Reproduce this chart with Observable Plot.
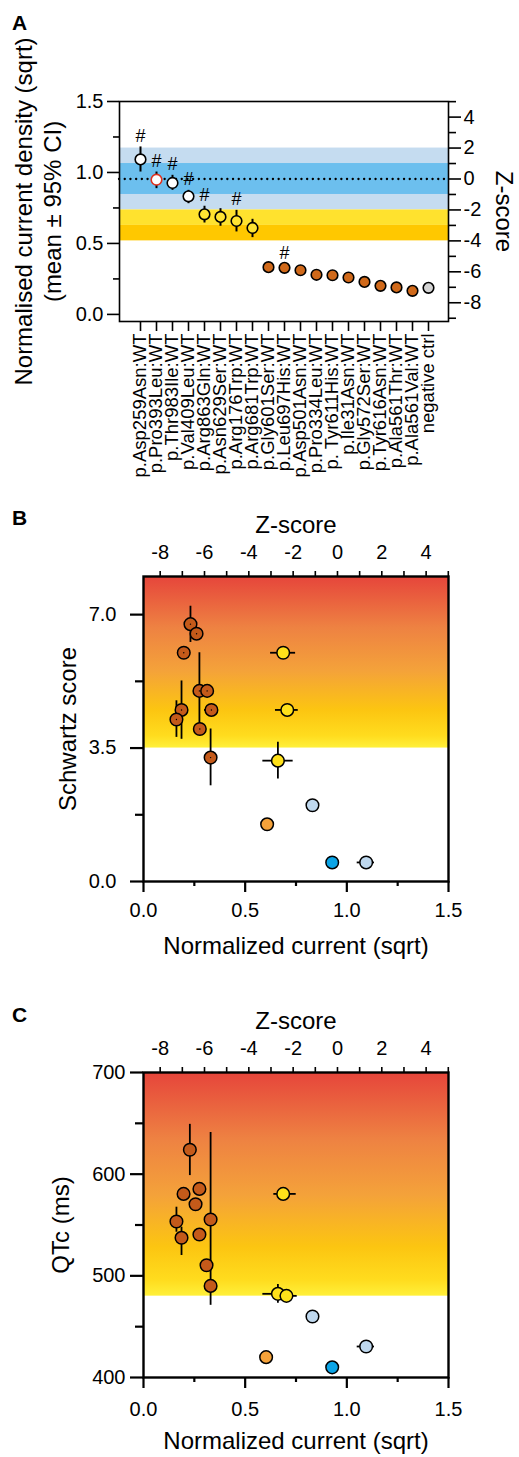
<!DOCTYPE html>
<html><head><meta charset="utf-8">
<script src="https://cdn.jsdelivr.net/npm/d3@7"></script>
<script src="https://cdn.jsdelivr.net/npm/@observablehq/plot@0.6"></script>
<style>
body{margin:0;background:#fff;font-family:"Liberation Sans",Arial,sans-serif;}
#root{position:relative;width:519px;height:1457px;overflow:hidden;background:#fff;}
.panel{position:absolute;left:0;}
.lab{position:absolute;font-weight:bold;font-size:21px;line-height:1;color:#000;}
</style></head><body><div id="root"></div>
<script>
// ---------- shared: Z-score conversion (WT mean and SD of normalised current) ----------
const zMean = 0.954, zSD = 0.109;
const toI = z => zMean + z * zSD;
const toZ = i => (i - zMean) / zSD;

// ---------- Panel A data ----------
const aLabels = ["p.Asp259Asn:WT","p.Pro393Leu:WT","p.Thr983Ile:WT","p.Val409Leu:WT","p.Arg863Gln:WT","p.Asn629Ser:WT","p.Arg176Trp:WT","p.Arg681Trp:WT","p.Gly601Ser:WT","p.Leu697His:WT","p.Asp501Asn:WT","p.Pro334Leu:WT","p. Tyr611His:WT","p.Ile31Asn:WT","p.Gly572Ser:WT","p.Tyr616Asn:WT","p.Ala561Thr:WT","p.Ala561Val:WT","negative ctrl"];
const aMean = [1.092,0.949,0.926,0.832,0.705,0.687,0.658,0.609,0.333,0.328,0.311,0.279,0.276,0.260,0.229,0.201,0.190,0.166,0.187];
const aLo   = [1.003,0.886,0.874,0.780,0.644,0.621,0.581,0.541,null,null,null,null,null,null,null,null,null,null,null];
const aHi   = [1.180,1.003,0.980,0.874,0.762,0.745,0.733,0.670,null,null,null,null,null,null,null,null,null,null,null];
const aClass = ["normal","reference","normal","normal","intermediate","intermediate","intermediate","intermediate","severe","severe","severe","severe","severe","severe","severe","severe","severe","severe","control"];
const aHash = [true,true,true,true,true,false,true,false,false,true,false,false,false,false,false,false,false,false,false];
// Z-score bands
const bandZ1 = [-2,-1,-3,-4];
const bandZ2 = [ 2, 1,-2,-3];
const bandKind = ["outer","inner","yellow","gold"];
const aLeftTicks = [0,0.5,1,1.5], aLeftMinor = [0.25,0.75,1.25];
const aZMajor = [-8,-6,-4,-2,0,2,4], aZMinor = [-9,-7,-5,-3,-1,1,3,5];

// ---------- Panel B data (Schwartz score) ----------
const bX = [0.231,0.261,0.198,0.275,0.313,0.187,0.334,0.162,0.277,0.330,0.687,0.707,0.661,0.608,0.831,1.095,0.928];
const bY = [6.75,6.5,6.0,5.0,5.0,4.5,4.5,4.25,4.0,3.25,6.0,4.5,3.17,1.5,2.0,0.5,0.5];
const bYlo = [6.27,null,null,4.0,null,3.73,null,3.78,null,2.51,null,null,2.69,null,null,null,null];
const bYhi = [7.22,null,null,6.0,null,5.26,null,4.74,null,4.0,null,null,3.65,null,null,null,null];
const bXlo = [null,null,null,null,null,null,0.300,null,null,null,0.625,0.649,0.587,null,null,1.051,null];
const bXhi = [null,null,null,null,null,null,0.368,null,null,null,0.748,0.761,0.736,null,null,1.136,null];
const bClass = ["severe","severe","severe","severe","severe","severe","severe","severe","severe","severe","intermediate","intermediate","intermediate","mild","normal","normal","wt"];
const bThreshold = 3.5, bTop = 8;

// ---------- Panel C data (QTc) ----------
const cX = [0.228,0.275,0.197,0.256,0.330,0.162,0.275,0.187,0.310,0.330,0.687,0.661,0.703,0.831,1.095,0.603,0.928];
const cY = [624,585.5,580.6,570.4,555.4,553.4,540.6,537.4,510.4,490.1,580.6,482.3,480.3,460,430.5,420,410];
const cYlo = [598.6,null,null,null,471,542.9,null,520,null,null,null,473,null,null,null,null,null];
const cYhi = [649,null,null,null,641,567.5,null,547.8,null,null,null,491.4,null,null,null,null,null];
const cXlo = [null,null,null,null,null,null,null,null,null,0.305,0.641,0.587,0.666,null,1.051,null,null];
const cXhi = [null,null,null,null,null,null,null,null,null,0.357,0.751,0.707,0.756,null,1.136,null,null];
const cClass = ["severe","severe","severe","severe","severe","severe","severe","severe","severe","severe","intermediate","intermediate","intermediate","normal","normal","mild","wt"];
const cThreshold = 480, cTop = 700;

const zTop = [-8,-7,-6,-5,-4,-3,-2,-1,0,1,2,3,4,5];

// ---------- styles ----------
const FONT = '"Liberation Sans", Arial, sans-serif';
const bandColor = {outer:"#C5DCF0", inner:"#6CBFEE", yellow:"#FFE22E", gold:"#FFC800"};
const fillA = {normal:"#FFFFFF", reference:"#FFFFFF", intermediate:"#FFE433", severe:"#D0691A", control:"#D3D3D3"};
const fillBC = {severe:"#C45A1A", intermediate:"#FFE11A", mild:"#F5A23A", normal:"#BFD8EE", wt:"#0BA4E6"};
const gradStops = [[0,"#E6453B"],[0.3,"#EE8242"],[0.55,"#F4A23A"],[0.78,"#FCC511"],[0.93,"#FFDC1E"],[1,"#FFF03A"]];

const root = document.getElementById("root");
function place(svg, top){ svg.classList.add("panel"); svg.style.top = top + "px"; root.appendChild(svg); }
function label(t, x, y){ const d = document.createElement("div"); d.className="lab"; d.textContent=t; d.style.left=x+"px"; d.style.top=y+"px"; root.appendChild(d); }
function addGradient(svg, id){
  const defs = d3.select(svg).insert("defs", ":first-child");
  const g = defs.append("linearGradient").attr("id", id).attr("x1",0).attr("y1",0).attr("x2",0).attr("y2",1);
  gradStops.forEach(([o,c]) => g.append("stop").attr("offset", o).attr("stop-color", c));
}
const zFmt = d => { const z = Math.round(toZ(d)); return String(z === 0 ? 0 : z); };

// ---------- Panel A ----------
const dataA = aLabels.map((label,i)=>({label, mean:aMean[i], lo:aLo[i], hi:aHi[i], cls:aClass[i], hash:aHash[i]}));
const bands = bandZ1.map((z1,i)=>({y1:toI(z1), y2:toI(bandZ2[i]), k:bandKind[i]}));
const plotA = Plot.plot({
  width:519, height:490, marginTop:101, marginBottom:169, marginLeft:119, marginRight:71,
  style:{fontFamily:FONT, fontSize:"20px", color:"#000", background:"transparent", overflow:"visible"},
  x:{type:"point", domain:aLabels, padding:0.68},
  y:{domain:[-0.05,1.5]},
  color:{type:"identity"},
  marks:[
    Plot.rect(bands, {y1:"y1", y2:"y2", fill:d=>bandColor[d.k]}),
    Plot.ruleY([zMean], {stroke:"#000", strokeWidth:2.3, strokeDasharray:"0.1,5.6", strokeLinecap:"round"}),
    Plot.ruleX(dataA.filter(d=>d.lo!=null), {x:"label", y1:"lo", y2:"hi", stroke:"#000", strokeWidth:2}),
    Plot.dot(dataA, {x:"label", y:"mean", r:5.3, fill:d=>fillA[d.cls], stroke:d=>d.cls==="reference"?"#E0301E":"#000", strokeWidth:1.6}),
    Plot.text(dataA.filter(d=>d.hash && d.hi!=null), {x:"label", y:"hi", text:()=>"#", dy:-11, fontSize:18}),
    Plot.text(dataA.filter(d=>d.hash && d.hi==null), {x:"label", y:"mean", text:()=>"#", dy:-15, fontSize:18}),
    Plot.frame({stroke:"#000", strokeWidth:1.6}),
    Plot.axisY({ticks:aLeftTicks, tickFormat:d3.format(".1f"), tickSize:12, tickPadding:4, strokeWidth:1.6, label:null}),
    Plot.axisY({ticks:aLeftMinor, tickFormat:()=>"", tickSize:6, strokeWidth:1.6, label:null}),
    Plot.axisY({anchor:"right", ticks:aZMajor.map(toI), tickFormat:zFmt, tickSize:12, tickPadding:3, strokeWidth:1.6, label:null}),
    Plot.axisY({anchor:"right", ticks:aZMinor.map(toI), tickFormat:()=>"", tickSize:7, strokeWidth:1.6, label:null}),
    Plot.axisX({tickRotate:-90, tickSize:10, tickPadding:2, fontSize:18.5, strokeWidth:1.6, label:null}),
    Plot.text(["Normalised current density (sqrt)\n(mean ± 95% CI)"], {frameAnchor:"left", textAnchor:"middle", lineAnchor:"middle", text:d=>d, rotate:-90, dx:-82, lineHeight:1.2, fontSize:24}),
    Plot.text(["Z-score"], {frameAnchor:"right", textAnchor:"middle", lineAnchor:"middle", text:d=>d, rotate:90, dx:55, fontSize:24})
  ]
});
place(plotA, 0);

// ---------- Panels B and C ----------
function scatter(cfg){
  const data = cfg.x.map((x,i)=>({x, y:cfg.y[i], ylo:cfg.ylo[i], yhi:cfg.yhi[i], xlo:cfg.xlo[i], xhi:cfg.xhi[i], cls:cfg.cls[i]}));
  const p = Plot.plot({
    width:519, height:cfg.height, marginTop:cfg.mt, marginBottom:cfg.mb, marginLeft:143, marginRight:71,
    style:{fontFamily:FONT, fontSize:"20px", color:"#000", background:"transparent", overflow:"visible"},
    x:{domain:[0,1.5]},
    y:{domain:cfg.ydomain},
    color:{type:"identity"},
    marks:[
      Plot.rect([{y1:cfg.threshold, y2:cfg.ydomain[1]}], {y1:"y1", y2:"y2", fill:`url(#${cfg.id})`}),
      Plot.ruleX(data.filter(d=>d.ylo!=null), {x:"x", y1:"ylo", y2:"yhi", stroke:"#000", strokeWidth:1.8}),
      Plot.ruleY(data.filter(d=>d.xlo!=null), {y:"y", x1:"xlo", x2:"xhi", stroke:"#000", strokeWidth:1.8}),
      Plot.dot(data, {x:"x", y:"y", r:6.3, fill:d=>fillBC[d.cls], stroke:"#000", strokeWidth:1.5}),
      ...(cfg.centerDots ? [Plot.dot(data.filter(d=>d.cls==="severe"), {x:"x", y:"y", r:0.7, fill:"#000"})] : []),
      Plot.frame({stroke:"#000", strokeWidth:2.4}),
      Plot.axisY({ticks:cfg.yMajor, tickFormat:cfg.yFmt, tickSize:13, tickPadding:cfg.yPad, strokeWidth:2.2, label:null}),
      Plot.axisY({ticks:cfg.yMinor, tickFormat:()=>"", tickSize:8, strokeWidth:2.2, label:null}),
      Plot.axisX({ticks:[0,0.5,1,1.5], tickFormat:d3.format(".1f"), tickSize:11, tickPadding:cfg.xPad, strokeWidth:2.2, label:null}),
      Plot.axisX({ticks:[0.25,0.75,1.25], tickFormat:()=>"", tickSize:5, strokeWidth:2.2, label:null}),
      Plot.axisX({anchor:"top", ticks:zTop.map(toI), tickFormat:d=>{const z=Math.round(toZ(d)); return z%2===0 ? String(z===0?0:z) : "";}, tickSize:6, tickPadding:12, strokeWidth:1.6, label:null}),
      Plot.text(["Z-score"], {frameAnchor:"top", lineAnchor:"middle", text:d=>d, dy:-51, fontSize:24}),
      Plot.text(["Normalized current (sqrt)"], {frameAnchor:"bottom", lineAnchor:"middle", text:d=>d, dy:cfg.bottomTitleDy, fontSize:24}),
      Plot.text([cfg.ytitle], {frameAnchor:"left", textAnchor:"middle", lineAnchor:"middle", text:d=>d, rotate:-90, dx:cfg.ytitleDx, fontSize:24})
    ]
  });
  addGradient(p, cfg.id);
  return p;
}

const plotB = scatter({
  id:"gradB", height:465, mt:76, mb:84, ydomain:[0,bTop], threshold:bThreshold,
  x:bX, y:bY, ylo:bYlo, yhi:bYhi, xlo:bXlo, xhi:bXhi, cls:bClass,
  yMajor:[0,3.5,7], yMinor:[1.75,5.25], yFmt:d3.format(".1f"), yPad:14, xPad:10,
  ytitle:"Schwartz score", ytitleDx:-75, bottomTitleDy:65, centerDots:true
});
place(plotB, 500);

const plotC = scatter({
  id:"gradC", height:457, mt:72, mb:80, ydomain:[400,cTop], threshold:cThreshold,
  x:cX, y:cY, ylo:cYlo, yhi:cYhi, xlo:cXlo, xhi:cXhi, cls:cClass,
  yMajor:[400,500,600,700], yMinor:[450,550,650], yFmt:d3.format("d"), yPad:5, xPad:13,
  ytitle:"QTc (ms)", ytitleDx:-82, bottomTitleDy:64, centerDots:false
});
place(plotC, 1000);

label("A", 12, 12);
label("B", 12, 507);
label("C", 12, 1004);
</script>
</body></html>
